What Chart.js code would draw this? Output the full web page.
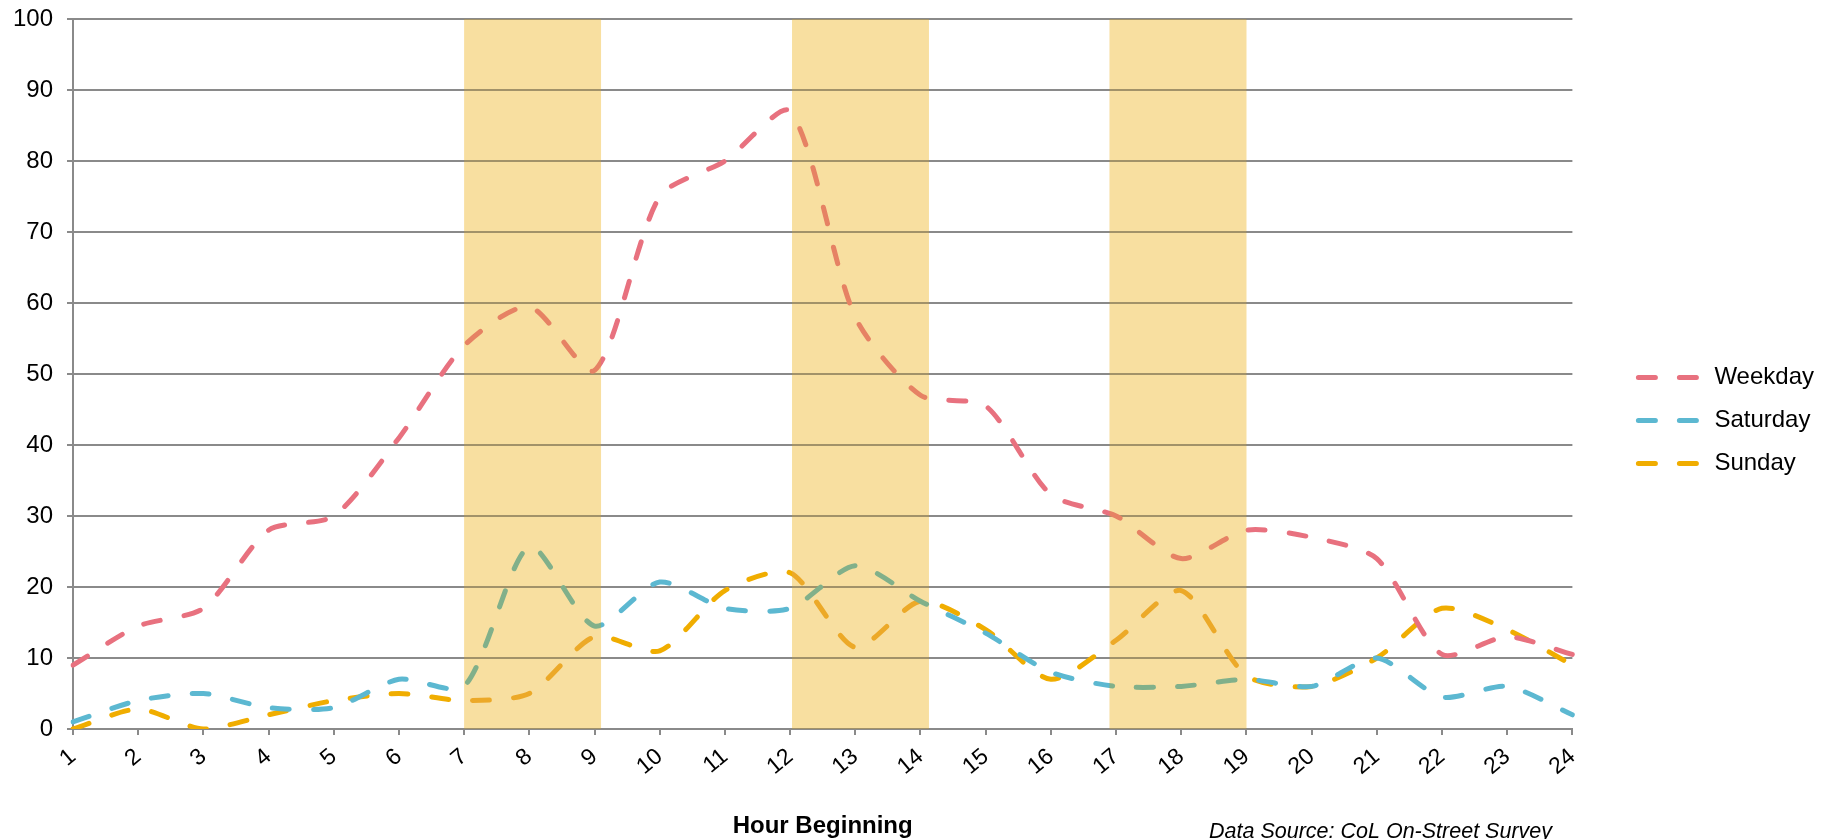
<!DOCTYPE html>
<html>
<head>
<meta charset="utf-8">
<script src="https://cdn.jsdelivr.net/npm/chart.js@4"></script>
<style>
    html, body { margin: 0; padding: 0; background: #fff; }
    #wrap { width: 1833px; height: 839px; position: relative; }
</style>
</head>
<body>
<div id="wrap"><canvas id="hourlyChart"></canvas></div>
<script>
const hours = ['1', '2', '3', '4', '5', '6', '7', '8', '9', '10', '11', '12',
    '13', '14', '15', '16', '17', '18', '19', '20', '21', '22', '23', '24'];

const weekday = [9, 14.5, 17, 28, 30, 41, 54, 59.5, 50.5, 75, 80, 87,
    58, 47, 45.5, 33, 30, 24, 28, 27, 24, 10.5, 13, 10.5];
const saturday = [1, 4, 5, 3, 3, 7, 6, 25.7, 14.5, 20.7, 17, 17,
    23, 18, 13.5, 8, 6, 6, 7, 6, 10, 4.5, 6, 2];
const sunday = [0, 2.8, 0, 2, 4, 5, 4, 5, 13, 11, 19.5, 22,
    11.5, 18, 14, 7, 12.5, 19.5, 7.5, 6, 10, 17, 14, 9];

// shaded peak periods (hour values on the x axis)
const bandStart = [7, 12.03, 16.9];
const bandEnd = [9.1, 14.13, 19.0];

const sourceNote = 'Data Source: CoL On-Street Survey';

const FONT = '"Liberation Sans", Arial, sans-serif';
const GRID = '#8a8a8a';

function lineSet(label, data, color) {
    return {
        label: label,
        data: data,
        borderColor: color,
        backgroundColor: color,
        borderWidth: 5,
        borderDash: [17, 24],
        borderCapStyle: 'round',
        borderJoinStyle: 'round',
        pointRadius: 0,
        tension: 0.25,
        fill: false
    };
}

// peak bands are painted over the lines, like the original
// (multiply tints the lines underneath, then a light wash on top)
const bandPlugin = {
    id: 'bands',
    afterDatasetsDraw(chart) {
        const ctx = chart.ctx;
        const x = chart.scales.x;
        const area = chart.chartArea;
        ctx.save();
        for (let i = 0; i < bandStart.length; i++) {
            const x0 = x.getPixelForValue(bandStart[i] - 1);
            const x1 = x.getPixelForValue(bandEnd[i] - 1);
            ctx.globalCompositeOperation = 'multiply';
            ctx.fillStyle = 'rgb(248, 223, 160)';
            ctx.fillRect(x0, area.top, x1 - x0, area.bottom - area.top);
            ctx.globalCompositeOperation = 'source-over';
            ctx.fillStyle = 'rgba(248, 223, 160, 0.25)';
            ctx.fillRect(x0, area.top, x1 - x0, area.bottom - area.top);
        }
        ctx.restore();
    }
};

const notePlugin = {
    id: 'note',
    afterDraw(chart) {
        const ctx = chart.ctx;
        ctx.save();
        ctx.font = 'italic 21.5px ' + FONT;
        ctx.fillStyle = '#000';
        ctx.textAlign = 'right';
        ctx.textBaseline = 'alphabetic';
        ctx.fillText(sourceNote, 1552, 838);
        ctx.restore();
    }
};

const ctx = document.getElementById('hourlyChart').getContext('2d');
new Chart(ctx, {
    type: 'line',
    data: {
        labels: hours,
        datasets: [
            lineSet('Weekday', weekday, '#e8717f'),
            lineSet('Saturday', saturday, '#5cb8d1'),
            lineSet('Sunday', sunday, '#f0ad00')
        ]
    },
    options: {
        responsive: true,
        maintainAspectRatio: false,
        devicePixelRatio: 1,
        animation: false,
        layout: { padding: { top: 19, left: 0, right: 9, bottom: 0 } },
        plugins: {
            legend: {
                position: 'right',
                align: 'start',
                title: {
                    display: true,
                    text: ' ',
                    font: { size: 12 },
                    padding: { top: 0, bottom: 313 }
                },
                labels: {
                    usePointStyle: true,
                    pointStyle: 'line',
                    pointStyleWidth: 64,
                    padding: 19,
                    color: '#000',
                    font: { family: FONT, size: 24 },
                    generateLabels: function (chart) {
                        const items = Chart.defaults.plugins.legend.labels.generateLabels(chart);
                        items.forEach(function (item, i) {
                            const ds = chart.data.datasets[i];
                            item.lineDash = ds.borderDash;
                            item.lineCap = ds.borderCapStyle;
                            item.lineWidth = ds.borderWidth;
                            item.strokeStyle = ds.borderColor;
                        });
                        return items;
                    }
                }
            },
            title: { display: false },
            tooltip: { enabled: false }
        },
        scales: {
            x: {
                type: 'category',
                offset: false,
                afterFit: function (scale) { scale.height = 110; },
                grid: {
                    drawOnChartArea: false,
                    drawTicks: true,
                    tickLength: 6,
                    color: GRID,
                    lineWidth: 2
                },
                border: { display: true, color: GRID, width: 2 },
                ticks: {
                    autoSkip: false,
                    minRotation: 40,
                    maxRotation: 40,
                    padding: 8,
                    color: '#000',
                    font: { family: FONT, size: 23 }
                },
                title: {
                    display: true,
                    text: 'Hour Beginning',
                    color: '#000',
                    font: { family: FONT, size: 24, weight: 'bold' },
                    padding: { top: 0, bottom: -2 }
                }
            },
            y: {
                type: 'linear',
                min: 0,
                max: 100,
                afterFit: function (scale) {
                    scale.width = 73;
                    scale.paddingTop = 0;
                },
                grid: {
                    color: GRID,
                    lineWidth: 2,
                    tickLength: 6
                },
                border: { display: true, color: GRID, width: 2 },
                ticks: {
                    stepSize: 10,
                    padding: 14,
                    color: '#000',
                    font: { family: FONT, size: 24 }
                }
            },
            spacer: {
                type: 'linear',
                position: 'right',
                afterFit: function (scale) {
                    scale.width = 47;
                    scale.paddingTop = 0;
                },
                grid: { display: false },
                border: { display: false },
                ticks: { display: false }
            }
        }
    },
    plugins: [bandPlugin, notePlugin]
});
</script>
</body>
</html>
